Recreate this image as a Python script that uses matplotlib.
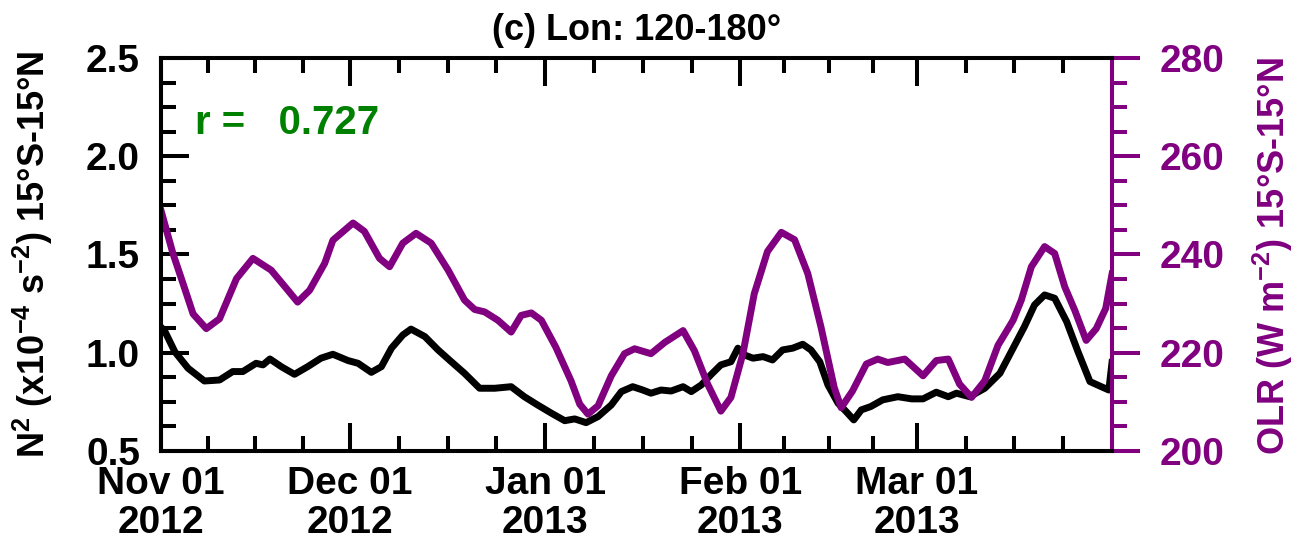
import numpy as np
import pandas as pd
import matplotlib
matplotlib.use('Agg')
import matplotlib.pyplot as plt

# Data (days since 2012-11-01)
start_date = '2012-11-01'
end_date = '2013-04-01'

n2_day = [0, 0.6, 2.2, 4.3, 6.9, 9.3, 11.4, 13.0, 15.1, 16.2, 17.3, 19.1, 21.2, 23.3,
          25.4, 27.3, 29.7, 31.3, 33.4, 35.0, 36.6, 38.4, 39.7, 41.9, 44.0, 46.1, 48.2,
          50.6, 53.0, 55.6, 57.7, 59.8, 62.0, 64.1, 65.7, 67.5, 69.4, 71.5, 73.1, 74.9,
          76.5, 77.8, 79.4, 81.0, 82.9, 84.2, 85.8, 87.3, 88.9, 90.5, 91.6, 92.6, 94.0,
          95.6, 97.1, 98.7, 100.3, 101.9, 103.2, 104.6, 105.9, 107.5, 108.8, 110.0, 111.2,
          112.7, 114.6, 117.0, 119.2, 121.0, 123.1, 125.0, 126.3, 128.4, 130.8, 133.2,
          135.3, 137.1, 138.7, 140.3, 141.9, 143.8, 145.6, 147.5, 149.3, 150.5, 151.0]
n2_val = [1.13, 1.11, 1.005, 0.921, 0.856, 0.861, 0.904, 0.904, 0.946, 0.938, 0.968, 0.929,
          0.890, 0.929, 0.972, 0.992, 0.960, 0.946, 0.900, 0.929, 1.023, 1.09, 1.12, 1.082,
          1.014, 0.954, 0.895, 0.819, 0.819, 0.827, 0.776, 0.734, 0.692, 0.654, 0.663,
          0.644, 0.675, 0.734, 0.802, 0.827, 0.810, 0.794, 0.810, 0.805, 0.827, 0.802,
          0.836, 0.887, 0.938, 0.954, 1.023, 0.989, 0.972, 0.980, 0.963, 1.014, 1.023,
          1.043, 1.014, 0.954, 0.836, 0.743, 0.700, 0.658, 0.709, 0.726, 0.760, 0.776,
          0.765, 0.765, 0.799, 0.776, 0.794, 0.776, 0.819, 0.895, 1.023, 1.133, 1.243,
          1.294, 1.277, 1.158, 1.005, 0.853, 0.827, 0.810, 0.95]

olr_day = [0, 1.9, 3.5, 5.1, 7.2, 9.3, 12.0, 14.6, 17.5, 19.9, 21.7, 23.6, 26.0, 27.3,
           30.5, 32.3, 34.7, 36.3, 38.4, 40.5, 42.9, 45.6, 48.2, 49.8, 51.4, 53.5, 55.6,
           57.2, 58.8, 60.4, 62.7, 65.1, 66.5, 67.8, 69.4, 71.5, 73.6, 75.2, 77.8, 80.0,
           82.9, 84.7, 86.8, 88.9, 90.5, 92.4, 94.2, 96.3, 98.5, 100.6, 102.7, 104.8,
           106.9, 108.0, 109.8, 112.0, 113.8, 115.4, 118.1, 121.0, 123.1, 125.0, 126.8,
           128.7, 130.8, 132.9, 135.3, 136.6, 138.2, 140.3, 141.9, 143.5, 145.1, 146.9,
           148.5, 150.0, 151.0]
olr_val = [249.0, 240.2, 234.1, 227.9, 224.9, 226.9, 235.1, 239.2, 236.8, 233.1, 230.3,
           232.7, 238.2, 242.9, 246.4, 244.7, 239.2, 237.5, 242.3, 244.3, 242.3, 236.8,
           230.7, 228.8, 228.3, 226.6, 224.2, 227.6, 228.1, 226.6, 221.1, 214.3, 209.5,
           207.5, 209.2, 215.3, 219.8, 220.8, 219.8, 222.1, 224.5, 220.4, 213.6, 208.1,
           210.9, 219.8, 232.0, 240.6, 244.5, 243.0, 236.1, 225.2, 212.9, 208.8, 212.2,
           217.7, 218.7, 218.0, 218.7, 215.3, 218.4, 218.7, 213.6, 210.9, 214.3, 221.5,
           226.6, 230.7, 237.5, 241.6, 240.2, 233.4, 228.6, 222.5, 224.9, 229.0, 236.0]

month_labels = ['Nov 01\n2012', 'Dec 01\n2012', 'Jan 01\n2013', 'Feb 01\n2013', 'Mar 01\n2013']
n2_ticks = [0.5, 1.0, 1.5, 2.0, 2.5]
olr_ticks = [200, 220, 240, 260, 280]

title = '(c) Lon: 120-180°'
left_label = 'N$^2$ (x10$^{-4}$ s$^{-2}$) 15°S-15°N'
right_label = 'OLR (W m$^{-2}$) 15°S-15°N'
r_text = 'r =   0.727'

purple = '#800080'
green = '#008000'

plt.rcParams['font.family'] = ['Liberation Sans', 'DejaVu Sans']
plt.rcParams['font.weight'] = 'bold'
plt.rcParams['mathtext.fontset'] = 'custom'
plt.rcParams['mathtext.rm'] = 'Liberation Sans:bold'
plt.rcParams['mathtext.it'] = 'Liberation Sans:bold'
plt.rcParams['mathtext.bf'] = 'Liberation Sans:bold'
plt.rcParams['axes.linewidth'] = 2.9

fig = plt.figure(figsize=(12.98, 5.42), dpi=100)
ax = fig.add_axes([0.124, 0.168, 0.7327, 0.7251])
ax2 = ax.twinx()

base = pd.Timestamp(start_date)
t_n2 = (base + pd.to_timedelta(n2_day, unit='D')).to_numpy()
t_olr = (base + pd.to_timedelta(olr_day, unit='D')).to_numpy()

ax.plot(t_n2, n2_val, color='black', lw=5, solid_joinstyle='round')
ax2.plot(t_olr, olr_val, color=purple, lw=5, solid_joinstyle='round')

# x axis: month starts, minor ticks at quarter months
edges = pd.date_range(start_date, end_date, freq='MS')
ax.set_xlim(edges[0], edges[-1])
ax.set_xticks(list(edges[:-1]))
ax.set_xticklabels(month_labels, linespacing=1.1)
minor = [a + (b - a) * k / 4 for a, b in zip(edges[:-1], edges[1:]) for k in (1, 2, 3)]
ax.set_xticks(minor, minor=True)

ax.set_ylim(n2_ticks[0], n2_ticks[-1])
ax.set_yticks(n2_ticks)
ax.set_yticklabels([f'{v:.1f}' for v in n2_ticks])
ax.set_yticks(np.arange(n2_ticks[0], n2_ticks[-1], 0.125), minor=True)

ax2.set_ylim(olr_ticks[0], olr_ticks[-1])
ax2.set_yticks(olr_ticks)
ax2.set_yticks(np.arange(olr_ticks[0], olr_ticks[-1], 5), minor=True)

ax.tick_params(axis='both', which='major', direction='in', length=20, width=2.9,
               labelsize=28, top=True)
ax.tick_params(axis='both', which='minor', direction='in', length=11, width=2.9, top=True)
ax.tick_params(axis='x', which='major', pad=11)
ax.tick_params(axis='y', which='major', pad=15)

ax2.spines['right'].set_color(purple)
ax2.tick_params(axis='y', which='major', direction='out', length=20, width=2.9,
                colors=purple, labelsize=28, pad=14)
ax2.tick_params(axis='y', which='minor', direction='out', length=11, width=2.9, colors=purple)

ax.set_title(title, fontsize=26, fontweight='bold', pad=13)
fig.text(33 / 1298, 1 - 254 / 542, left_label, rotation=90, ha='center', va='center',
         fontsize=26)
fig.text(1273 / 1298, 1 - 256 / 542, right_label, rotation=90, ha='center', va='center',
         fontsize=26, color=purple)
ax.text(0.036, 0.835, r_text, transform=ax.transAxes, color=green, fontsize=29,
        va='center', ha='left')

fig.savefig('out.png', dpi=100)
